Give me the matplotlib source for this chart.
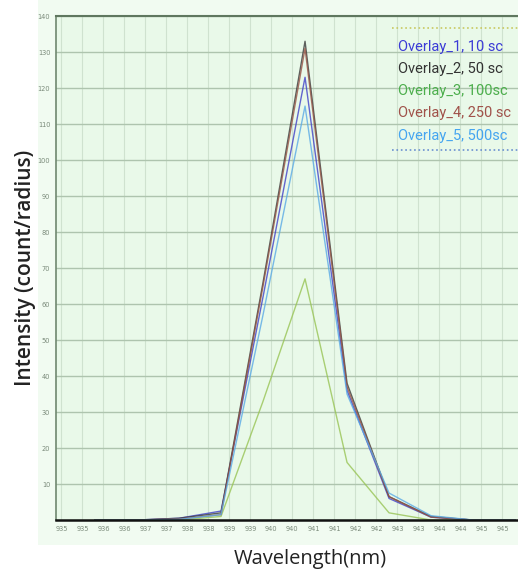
import matplotlib.pyplot as plt
from matplotlib.patches import Rectangle
import numpy as np

# Spectra of the five overlays (intensity vs wavelength)
wavelength = [936, 937, 938, 939, 940, 941, 942, 943, 944, 945, 946]
overlay_1 = [0, 0, 0.5, 2.5, 62, 123, 36, 6.0, 0.8, 0, 0]
overlay_2 = [0, 0, 0.5, 2.0, 66, 133, 38, 6.5, 1.0, 0, 0]
overlay_3 = [0, 0, 0.0, 1.0, 33, 67, 16, 2.0, 0.0, 0, 0]
overlay_4 = [0, 0, 0.3, 1.5, 65, 131, 37, 6.5, 0.8, 0, 0]
overlay_5 = [0, 0, 0.2, 1.5, 57, 115, 35, 7.5, 1.2, 0, 0]

series = [
    ('Overlay_1, 10 sc', overlay_1, '#4040c8'),
    ('Overlay_2, 50 sc', overlay_2, '#3a3a3a'),
    ('Overlay_3, 100sc', overlay_3, '#98c455'),
    ('Overlay_4, 250 sc', overlay_4, '#985446'),
    ('Overlay_5, 500sc', overlay_5, '#5aaae6'),
]
legend_colors = ['#3b3bd6', '#333333', '#4cae4c', '#a0524a', '#45a5f0']

y_ticks = np.arange(0, 141, 10)
x_ticks = np.arange(935.2, 946.1, 0.5)

fig = plt.figure(figsize=(5.18, 5.74), dpi=100, facecolor='white')
# light panel behind the plot
panel = Rectangle((0.073, 0.05), 0.927, 0.95, transform=fig.transFigure,
                  facecolor='#f1fbf1', edgecolor='none', zorder=-10)
fig.add_artist(panel)

ax = fig.add_axes([0.108, 0.094, 0.892, 0.878])
ax.set_zorder(1)
ax.set_facecolor('#e9f9e9')

for (name, vals, col) in series:
    ax.plot(wavelength, vals, color=col, linewidth=1.0, alpha=0.8, label=name)

ax.set_xlim(935.07, 946.07)
ax.set_ylim(0, 140)
ax.set_yticks(y_ticks)
ax.set_yticklabels([''] + [str(v) for v in y_ticks[1:]])
ax.set_xticks(x_ticks)
ax.set_xticklabels([str(int(np.floor(t))) for t in x_ticks])
ax.tick_params(axis='both', length=0, labelsize=4.8, labelcolor='#7a8a7a', pad=4)

ax.grid(True, axis='y', color='#aec4ae', linewidth=1.0)
ax.grid(True, axis='x', color='#cfe2cf', linewidth=0.8)
ax.set_axisbelow(True)

ax.spines['left'].set_color('#6f876f')
ax.spines['left'].set_linewidth(1.2)
ax.spines['top'].set_color('#5f775f')
ax.spines['top'].set_linewidth(1.5)
ax.spines['bottom'].set_color('#111111')
ax.spines['bottom'].set_linewidth(1.8)
ax.spines['right'].set_visible(False)

ax.set_ylabel('Intensity (count/radius)', fontsize=15, family='Open Sans',
              fontweight='semibold', color='#222222', labelpad=1)
ax.set_xlabel('Wavelength(nm)', fontsize=14.5, family='Open Sans',
              color='#222222')
ax.xaxis.set_label_coords(0.55, -0.058, transform=ax.transAxes)
ax.xaxis.label.set_verticalalignment('top')

leg = ax.legend(loc='upper left', bbox_to_anchor=(0.725, 0.967), frameon=False,
                handlelength=0, handletextpad=0, borderpad=0, labelspacing=0.56,
                prop={'family': ['Roboto', 'DejaVu Sans'], 'size': 10.5})
for txt, col in zip(leg.get_texts(), legend_colors):
    txt.set_color(col)

# dotted rules above and below the legend block
ax.plot([0.727, 1.0], [0.977, 0.977], transform=ax.transAxes, color='#c8c860',
        linestyle=':', linewidth=1.2, clip_on=False)
ax.plot([0.727, 1.0], [0.735, 0.735], transform=ax.transAxes, color='#6a8fd0',
        linestyle=':', linewidth=1.2, clip_on=False)

fig.savefig('out.png', dpi=100)
